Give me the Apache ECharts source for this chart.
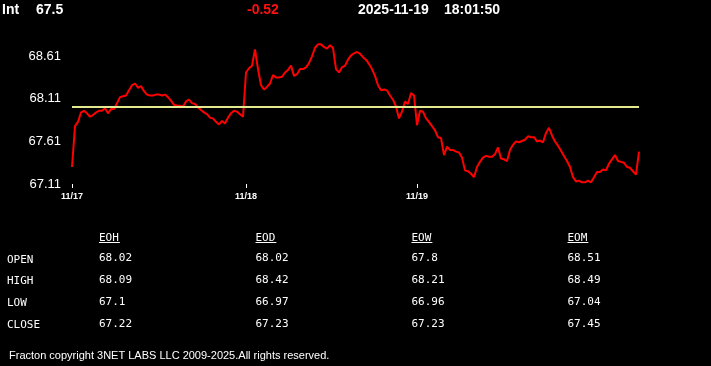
<!DOCTYPE html>
<html>
<head>
<meta charset="utf-8">
<style>
html,body{margin:0;padding:0;background:#000;}
#chart{width:711px;height:366px;}
</style>
<script src="https://cdn.jsdelivr.net/npm/echarts@6.0.0/dist/echarts.min.js"></script>
</head>
<body>
<div id="chart"></div>
<script>
// ---- header ----
const instrument = 'Int';
const lastPrice = '67.5';
const change = '-0.52';
const quoteDate = '2025-11-19';
const quoteTime = '18:01:50';

// ---- price series (equally spaced samples) ----
const prices = [
  67.31,67.79,67.84,67.95,67.97,67.94,67.90,67.92,67.95,67.97,
  67.97,68.00,67.94,67.99,67.99,68.06,68.13,68.14,68.15,68.21,
  68.27,68.29,68.24,68.26,68.20,68.16,68.15,68.15,68.16,68.16,
  68.15,68.16,68.13,68.09,68.04,68.03,68.03,68.02,68.08,68.10,
  68.06,68.05,68.01,67.98,67.95,67.93,67.89,67.88,67.84,67.81,
  67.85,67.82,67.89,67.94,67.97,67.96,67.93,67.90,68.42,68.47,
  68.50,68.69,68.46,68.27,68.22,68.25,68.29,68.39,68.36,68.36,
  68.37,68.42,68.45,68.50,68.38,68.40,68.46,68.46,68.48,68.53,
  68.61,68.71,68.75,68.75,68.72,68.70,68.74,68.71,68.46,68.42,
  68.48,68.50,68.57,68.62,68.645,68.66,68.64,68.60,68.57,68.52,
  68.46,68.38,68.27,68.21,68.22,68.21,68.15,68.10,68.02,67.88,
  67.96,68.08,68.05,68.18,68.15,67.80,67.97,67.96,67.88,67.84,
  67.79,67.74,67.66,67.65,67.45,67.55,67.51,67.51,67.49,67.48,
  67.42,67.27,67.26,67.23,67.19,67.31,67.37,67.42,67.44,67.43,
  67.43,67.46,67.54,67.41,67.40,67.38,67.51,67.57,67.61,67.60,
  67.615,67.63,67.67,67.66,67.66,67.61,67.62,67.60,67.71,67.77,
  67.68,67.61,67.56,67.50,67.44,67.38,67.31,67.19,67.14,67.15,
  67.13,67.13,67.15,67.13,67.19,67.25,67.25,67.28,67.27,67.35,
  67.40,67.45,67.38,67.37,67.36,67.31,67.30,67.26,67.22,67.49
];
const refLevel = 68.02;

// ---- axis ticks ----
const tickIndex = [0, 58, 115];
const tickLabels = ['11/17', '11/18', '11/19'];
const yLabels = [67.11, 67.61, 68.11, 68.61];
const yMin = 67.11, yMax = 68.86;

// ---- summary table ----
const rowLabels = ['OPEN', 'HIGH', 'LOW', 'CLOSE'];
const colHeaders = ['EOH', 'EOD', 'EOW', 'EOM'];
const eohValues = ['68.02', '68.09', '67.1', '67.22'];
const eodValues = ['68.02', '68.42', '66.97', '67.23'];
const eowValues = ['67.8', '68.21', '66.96', '67.23'];
const eomValues = ['68.51', '68.49', '67.04', '67.45'];
const footer = 'Fracton copyright 3NET LABS LLC 2009-2025.All rights reserved.';

const categories = prices.map((_, i) => i);

const chart = echarts.init(document.getElementById('chart'), null, {renderer: 'canvas'});

const headFont = 'bold 14px "Liberation Sans", Arial, sans-serif';
const monoFont = '11px "DejaVu Sans Mono", monospace';
const graphics = [
  {type:'text', x:2, y:10, style:{text:instrument, font:headFont, fill:'#fff', verticalAlign:'middle'}},
  {type:'text', x:36, y:10, style:{text:lastPrice, font:headFont, fill:'#fff', verticalAlign:'middle'}},
  {type:'text', x:247, y:10, style:{text:change, font:headFont, fill:'#ff1010', verticalAlign:'middle'}},
  {type:'text', x:358, y:10, style:{text:quoteDate, font:headFont, fill:'#fff', verticalAlign:'middle'}},
  {type:'text', x:444, y:10, style:{text:quoteTime, font:headFont, fill:'#fff', verticalAlign:'middle'}},
  {type:'text', x:9, y:355.5, style:{text:footer, font:'11px "Liberation Sans", Arial, sans-serif', fill:'#fff', verticalAlign:'middle'}}
];
const colX = [99, 255.5, 411.5, 567.5];
const rowY = [258.5, 280, 302, 324];
const colValues = [eohValues, eodValues, eowValues, eomValues];
colHeaders.forEach((h, c) => {
  graphics.push({type:'text', x:colX[c], y:238, style:{text:h, font:monoFont, fill:'#fff', verticalAlign:'middle'}});
  graphics.push({type:'line', shape:{x1:colX[c], y1:242.5, x2:colX[c] + h.length * 6.62 + 1, y2:242.5}, style:{stroke:'#fff', lineWidth:1}});
  colValues[c].forEach((v, r) => {
    graphics.push({type:'text', x:colX[c], y:rowY[r], style:{text:v, font:monoFont, fill:'#fff', verticalAlign:'middle'}});
  });
});
rowLabels.forEach((l, r) => {
  graphics.push({type:'text', x:7, y:rowY[r] + 1.2, style:{text:l, font:monoFont, fill:'#fff', verticalAlign:'middle'}});
});

chart.setOption({
  backgroundColor: '#000',
  animation: false,
  grid: {left: 72, right: 72, top: 35, bottom: 182, containLabel: false},
  xAxis: {
    type: 'category',
    data: categories,
    boundaryGap: false,
    axisLine: {show: false},
    axisTick: {show: true, length: 4, interval: (i) => tickIndex.includes(i), lineStyle: {color: '#fff', width: 1}},
    axisLabel: {
      show: true,
      interval: (i) => tickIndex.includes(i),
      formatter: (v, i) => { const k = tickIndex.indexOf(Number(v)); return k >= 0 ? tickLabels[k] : ''; },
      color: '#fff',
      fontSize: 9,
      fontWeight: 'bold',
      fontFamily: '"Liberation Sans", Arial, sans-serif',
      margin: 8
    },
    splitLine: {show: false}
  },
  yAxis: {
    type: 'value',
    min: yMin,
    max: yMax,
    axisLine: {show: false},
    axisTick: {show: false},
    splitLine: {show: false},
    axisLabel: {
      customValues: yLabels,
      formatter: (v) => Number(v).toFixed(2),
      color: '#fff',
      fontSize: 13,
      fontFamily: '"Liberation Sans", Arial, sans-serif',
      margin: 11
    }
  },
  series: [{
    type: 'line',
    data: prices,
    symbol: 'none',
    lineStyle: {color: '#ff0000', width: 2},
    itemStyle: {color: '#ff0000'},
    markLine: {
      silent: true,
      symbol: 'none',
      label: {show: false},
      lineStyle: {color: '#e3ea8e', width: 2, type: 'solid'},
      data: [{yAxis: refLevel}]
    },
    z: 3
  }],
  graphic: graphics
});
</script>
</body>
</html>
